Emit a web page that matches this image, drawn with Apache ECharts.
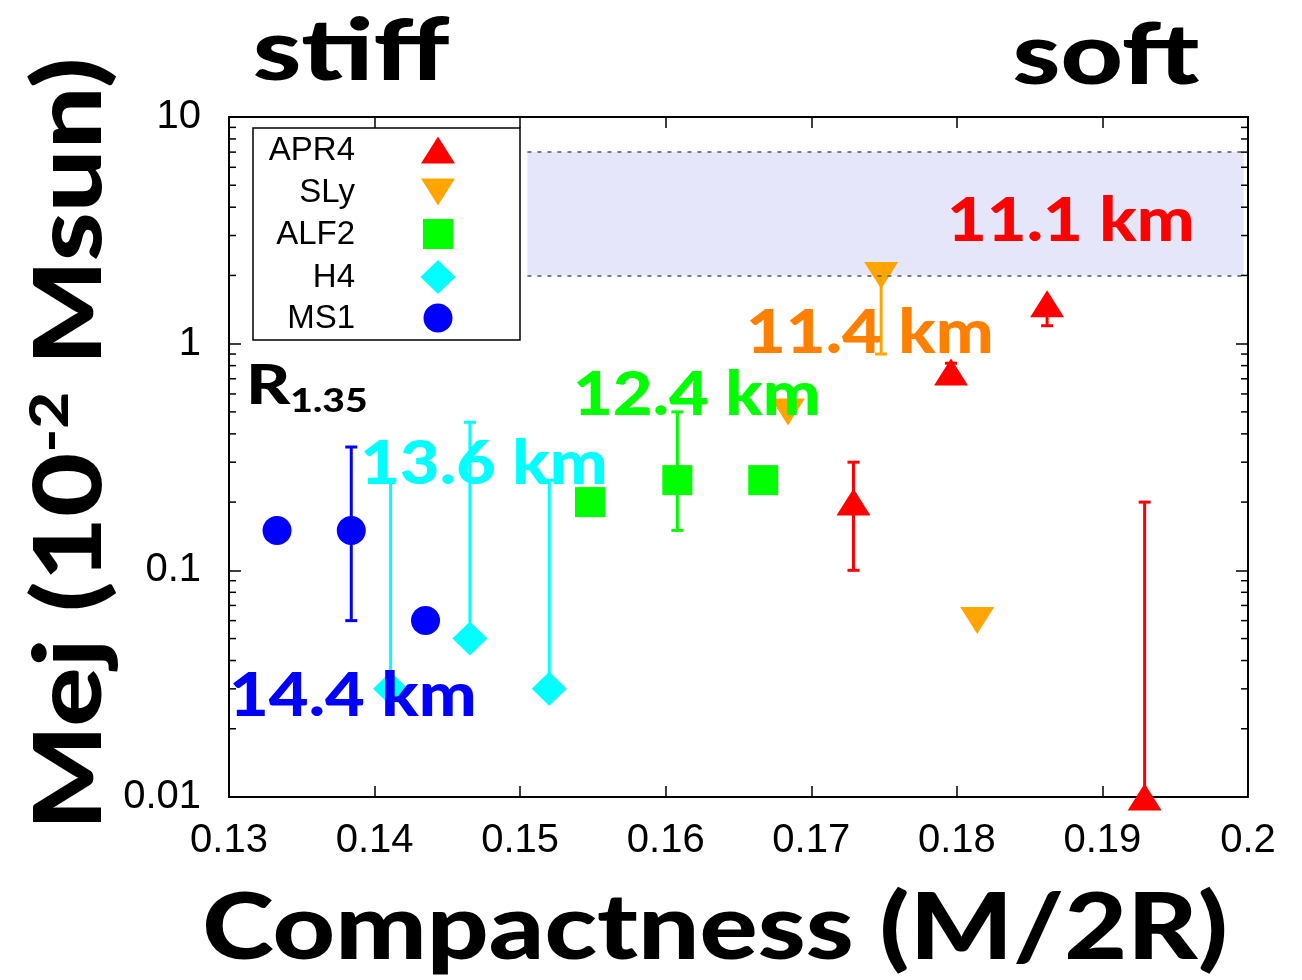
<!DOCTYPE html>
<html>
<head>
<meta charset="utf-8">
<title>Mej vs Compactness</title>
<script src="https://cdn.jsdelivr.net/npm/echarts@6/dist/echarts.min.js"></script>
<style>
  html, body { margin: 0; padding: 0; background: #fff; }
  #chart { width: 1302px; height: 980px; }
</style>
</head>
<body>
<div id="chart"></div>
<script>
// ---- data: compactness (M/2R) and ejected mass (10^-2 Msun) per EOS ----
const eosNames = ['APR4', 'SLy', 'ALF2', 'H4', 'MS1'];
const eosColors = ['#ff0000', '#ffa500', '#00ff00', '#00ffff', '#0000ff'];

const apr4Compact = [0.1729, 0.1796, 0.1862, 0.1929];
const apr4Mej     = [0.2, 0.75, 1.5, 0.01];
const apr4Low     = [0.1, 0.75, 1.2, 0.01];
const apr4High    = [0.3, 0.82, 1.5, 0.2];

const slyCompact = [0.1684, 0.1748, 0.1814];
const slyMej     = [0.5, 2.0, 0.06];
const slyLow     = [null, 0.9, null];
const slyHigh    = [null, 2.0, null];

const alf2Compact = [0.1548, 0.1608, 0.1667];
const alf2Mej     = [0.2, 0.25, 0.25];
const alf2Low     = [null, 0.15, null];
const alf2High    = [null, 0.5, null];

const h4Compact = [0.1411, 0.14655, 0.152];
const h4Mej     = [0.03, 0.05, 0.03];
const h4Low     = [0.03, 0.05, 0.03];
const h4High    = [0.25, 0.45, 0.25];

const ms1Compact = [0.1333, 0.1384, 0.1435];
const ms1Mej     = [0.15, 0.15, 0.06];
const ms1Low     = [null, 0.06, null];
const ms1High    = [null, 0.35, null];

// shaded observational band
const bandMej = [2, 7];
const bandCompact = [0.1505, 0.1997];

// radius annotations
const radiusLabels = ['11.1 km', '11.4 km', '12.4 km', '13.6 km', '14.4 km'];

// axis ranges
const xRange = [0.13, 0.2];
const yRange = [0.01, 10];
const yMinorTicks = [];
[0.01, 0.1, 1].forEach(d => { for (let k = 2; k <= 9; k++) yMinorTicks.push(+(d * k).toPrecision(2)); });

// ---- helpers ----
function points(xs, ys) { return xs.map((x, i) => [x, ys[i]]); }
function bars(xs, lo, hi) {
  const out = [];
  xs.forEach((x, i) => { if (lo[i] != null && hi[i] != null) out.push([x, lo[i], hi[i]]); });
  return out;
}

function errorBarSeries(data, color) {
  return {
    type: 'custom',
    data: data,
    encode: { x: 0, y: [1, 2] },
    clip: false,
    z: 3,
    silent: true,
    renderItem: function (params, api) {
      const x = api.value(0);
      const a = api.coord([x, api.value(1)]);
      const b = api.coord([x, api.value(2)]);
      const cap = 6;
      const st = { stroke: color, lineWidth: 3 };
      return {
        type: 'group',
        children: [
          { type: 'line', shape: { x1: a[0], y1: a[1], x2: b[0], y2: b[1] }, style: st },
          { type: 'line', shape: { x1: a[0] - cap, y1: a[1], x2: a[0] + cap, y2: a[1] }, style: st },
          { type: 'line', shape: { x1: b[0] - cap, y1: b[1], x2: b[0] + cap, y2: b[1] }, style: st }
        ]
      };
    }
  };
}

function markerSeries(name, data, color, symbol, size, rotate) {
  return {
    name: name,
    type: 'scatter',
    data: data,
    symbol: symbol,
    symbolSize: size,
    symbolRotate: rotate || 0,
    clip: false,
    z: 4,
    itemStyle: { color: color, opacity: 1 }
  };
}

const axisCommon = {
  axisLine: { show: true, lineStyle: { color: '#000', width: 2 } },
  splitLine: { show: false },
  minorTick: { show: false }
};

const chart = echarts.init(document.getElementById('chart'), null, { renderer: 'canvas' });

const option = {
  animation: false,
  backgroundColor: '#fff',
  grid: { left: 229, right: 54, top: 117, bottom: 183 },
  xAxis: [
    Object.assign({}, axisCommon, {
      type: 'value', min: xRange[0], max: xRange[1], interval: 0.01, position: 'bottom',
      axisTick: { inside: true, length: 11, lineStyle: { color: '#000', width: 1.5 } },
      axisLabel: {
        fontFamily: 'Liberation Sans', fontSize: 40, color: '#000', margin: 24,
        formatter: v => String(+v.toFixed(2))
      }
    }),
    Object.assign({}, axisCommon, {
      type: 'value', min: xRange[0], max: xRange[1], interval: 0.01, position: 'top',
      axisTick: { inside: true, length: 11, lineStyle: { color: '#000', width: 1.5 } },
      axisLabel: { show: false }
    })
  ],
  yAxis: [
    Object.assign({}, axisCommon, {
      type: 'log', logBase: 10, min: yRange[0], max: yRange[1], position: 'left',
      axisTick: { inside: true, length: 12, lineStyle: { color: '#000', width: 1.5 } },
      axisLabel: {
        fontFamily: 'Liberation Sans', fontSize: 40, color: '#000', margin: 28,
        formatter: v => String(+(+v).toPrecision(2))
      }
    }),
    Object.assign({}, axisCommon, {
      type: 'log', logBase: 10, min: yRange[0], max: yRange[1], position: 'right',
      axisTick: { inside: true, length: 12, lineStyle: { color: '#000', width: 1.5 } },
      axisLabel: { show: false }
    })
  ],
  series: [
    // shaded band with dashed borders
    {
      type: 'scatter',
      data: [],
      silent: true,
      z: 1,
      markArea: {
        silent: true,
        itemStyle: { color: '#e6e6fa', opacity: 1 },
        data: [[{ coord: [bandCompact[0], bandMej[1]] }, { coord: [bandCompact[1], bandMej[0]] }]]
      },
      markLine: {
        silent: true,
        symbol: 'none',
        label: { show: false },
        lineStyle: { color: '#555', width: 1.5, type: [4, 6] },
        data: [
          [{ coord: [bandCompact[0], bandMej[1]] }, { coord: [xRange[1], bandMej[1]] }],
          [{ coord: [bandCompact[0], bandMej[0]] }, { coord: [xRange[1], bandMej[0]] }]
        ]
      }
    },
    // log minor ticks on left and right frame
    {
      type: 'custom',
      data: yMinorTicks.map(v => [xRange[0], v]),
      encode: { x: 0, y: 1 },
      clip: false,
      silent: true,
      z: 5,
      renderItem: function (params, api) {
        const v = api.value(1);
        const l = api.coord([xRange[0], v]);
        const r = api.coord([xRange[1], v]);
        const st = { stroke: '#000', lineWidth: 1.5 };
        return {
          type: 'group',
          children: [
            { type: 'line', shape: { x1: l[0], y1: l[1], x2: l[0] + 7, y2: l[1] }, style: st },
            { type: 'line', shape: { x1: r[0] - 7, y1: r[1], x2: r[0], y2: r[1] }, style: st }
          ]
        };
      }
    },
    errorBarSeries(bars(apr4Compact, apr4Low, apr4High), eosColors[0]),
    errorBarSeries(bars(slyCompact, slyLow, slyHigh), eosColors[1]),
    errorBarSeries(bars(alf2Compact, alf2Low, alf2High), eosColors[2]),
    errorBarSeries(bars(h4Compact, h4Low, h4High), eosColors[3]),
    errorBarSeries(bars(ms1Compact, ms1Low, ms1High), eosColors[4]),
    markerSeries(eosNames[0], points(apr4Compact, apr4Mej), eosColors[0], 'triangle', [34, 27]),
    markerSeries(eosNames[1], points(slyCompact, slyMej), eosColors[1], 'triangle', [34, 27], 180),
    markerSeries(eosNames[2], points(alf2Compact, alf2Mej), eosColors[2], 'rect', [30, 30]),
    markerSeries(eosNames[3], points(h4Compact, h4Mej), eosColors[3], 'diamond', [35, 34]),
    markerSeries(eosNames[4], points(ms1Compact, ms1Mej), eosColors[4], 'circle', 29)
  ],
  graphic: { elements: [] }
};

// ---- legend box ----
const legendRows = [150, 192, 234, 277, 318];
const legendX = 438;
const g = option.graphic.elements;
g.push({ type: 'rect', z: 10, shape: { x: 253, y: 128, width: 267, height: 212 },
         style: { fill: '#fff', stroke: '#000', lineWidth: 1.5 } });
eosNames.forEach((n, i) => {
  g.push({ type: 'text', z: 11, x: 355, y: legendRows[i] + 1,
           style: { text: n, fill: '#000', font: '33px "Liberation Sans"', align: 'right', verticalAlign: 'middle' } });
});
const cy = legendRows;
g.push({ type: 'polygon', z: 11, shape: { points: [[legendX, cy[0] - 13.5], [legendX + 17, cy[0] + 13.5], [legendX - 17, cy[0] + 13.5]] }, style: { fill: eosColors[0] } });
g.push({ type: 'polygon', z: 11, shape: { points: [[legendX - 17, cy[1] - 13.5], [legendX + 17, cy[1] - 13.5], [legendX, cy[1] + 13.5]] }, style: { fill: eosColors[1] } });
g.push({ type: 'rect', z: 11, shape: { x: legendX - 15, y: cy[2] - 15, width: 30, height: 30 }, style: { fill: eosColors[2] } });
g.push({ type: 'polygon', z: 11, shape: { points: [[legendX, cy[3] - 17], [legendX + 17.5, cy[3]], [legendX, cy[3] + 17], [legendX - 17.5, cy[3]]] }, style: { fill: eosColors[3] } });
g.push({ type: 'circle', z: 11, shape: { cx: legendX, cy: cy[4], r: 14.5 }, style: { fill: eosColors[4] } });

// ---- annotations (wide bold lettering, stretched horizontally) ----
const boldFont = (size) => '900 ' + size + 'px Lato, "Open Sans", sans-serif';
const radiusStyle = [
  { x: 947, y: 222, color: '#ff0000' },
  { x: 746, y: 334, color: '#ff8000' },
  { x: 573, y: 396, color: '#00ff00' },
  { x: 360, y: 465, color: '#00ffff' },
  { x: 229, y: 697, color: '#0000ff' }
];
radiusLabels.forEach((t, i) => {
  const s = radiusStyle[i];
  g.push({ type: 'text', z: 20, x: s.x, y: s.y, scaleX: 1.145,
           style: { text: t, fill: s.color, font: boldFont(60), align: 'left', verticalAlign: 'middle' } });
});

g.push({ type: 'text', z: 20, x: 246, y: 386, scaleX: 1.22,
         style: { text: 'R{sub|1.35}', fill: '#000', font: boldFont(56), align: 'left', verticalAlign: 'middle',
                  rich: { sub: { font: boldFont(32), fill: '#000', verticalAlign: 'bottom', padding: [0, 0, -4, 0] } } } });

g.push({ type: 'text', z: 20, x: 351, y: 52, scaleX: 1.28,
         style: { text: 'stiff', fill: '#000', font: boldFont(86), align: 'center', verticalAlign: 'middle' } });
g.push({ type: 'text', z: 20, x: 1106, y: 56, scaleX: 1.26,
         style: { text: 'soft', fill: '#000', font: boldFont(86), align: 'center', verticalAlign: 'middle' } });

g.push({ type: 'text', z: 20, x: 715, y: 929, scaleX: 1.18,
         style: { text: 'Compactness (M/2R)', fill: '#000', font: boldFont(92), align: 'center', verticalAlign: 'middle' } });

g.push({ type: 'text', z: 20, x: 71, y: 444, rotation: Math.PI / 2, scaleX: 1.18,
         style: { text: 'Mej (10{sup|-2} Msun)', fill: '#000', font: boldFont(94), align: 'center', verticalAlign: 'middle',
                  rich: { sup: { font: boldFont(54), fill: '#000', verticalAlign: 'top', padding: [0, 0, 30, 0] } } } });

chart.setOption(option);
</script>
</body>
</html>
